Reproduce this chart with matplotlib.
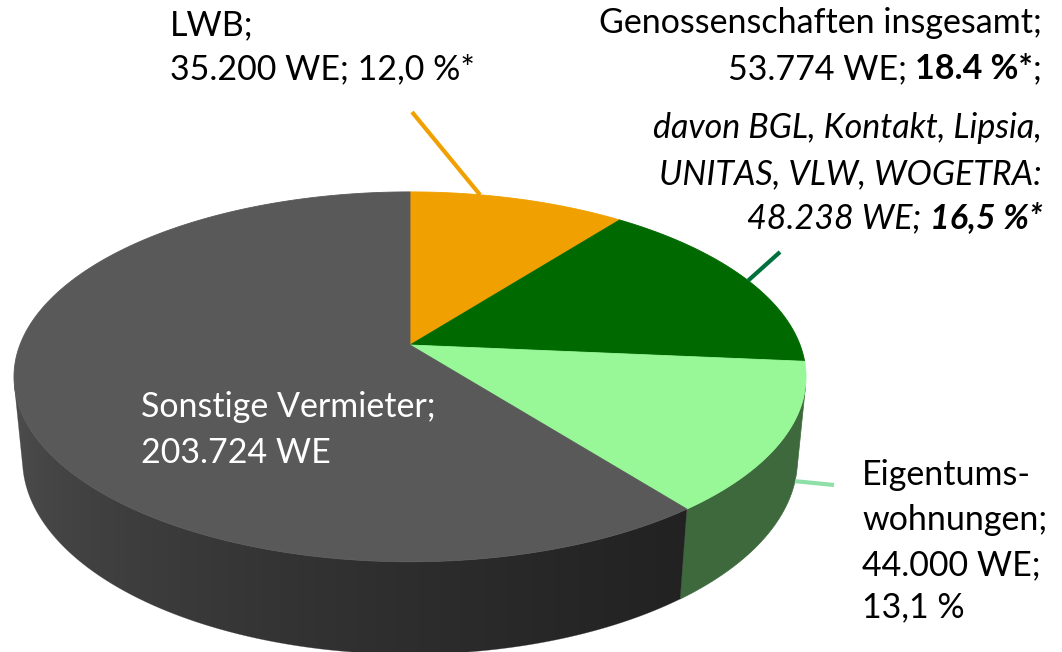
"""3D pie: Wohnungsbestand nach Vermietergruppen."""
import numpy as np
import matplotlib
matplotlib.use('Agg')
import matplotlib.pyplot as plt
from matplotlib.patches import Polygon

plt.rcParams['font.family'] = ['Lato', 'DejaVu Sans']

# slices, clockwise from 12 o'clock
slice_names = ['LWB', 'Genossenschaften', 'Eigentumswohnungen', 'Sonstige Vermieter']
slice_units = [35200, 53774, 44000, 203724]

top_colors = ['#F0A000', '#006A00', '#98F898', '#595959']
side_colors = ['#9A6700', '#004400', '#3D693D', None]  # None -> grey gradient

# camera for the tilted disc (pixel space, 1 unit = 1 px)
FOCAL = 2013
DIST = 5.16
SIN_T = 0.46
COS_T = np.sqrt(1 - SIN_T ** 2)
CX, CY = 410, 345
DEPTH = 0.24
FS = 24.5


def project(x, y, z):
    d = DIST + y * COS_T - z * SIN_T
    return CX + FOCAL * x / d, CY - FOCAL * (y * SIN_T + z * COS_T) / d


def rim(a_deg, z=0.0):
    a = np.radians(a_deg)
    return project(np.sin(a), np.cos(a), z)


def piece_width(ax, renderer, s, **kw):
    t1 = ax.text(0, 0, '|' + s + '|', **kw)
    t2 = ax.text(0, 0, '||', **kw)
    w = (t1.get_window_extent(renderer).width
         - t2.get_window_extent(renderer).width)
    t1.remove()
    t2.remove()
    return w


def rich_line(ax, renderer, x, y, parts, align='left', color='black'):
    # parts: (text, weight, style)
    kws = [dict(fontsize=FS, fontweight=w, fontstyle=st, color=color)
           for _, w, st in parts]
    widths = [piece_width(ax, renderer, s, **kw)
              for (s, _, _), kw in zip(parts, kws)]
    if align == 'right':
        x = x - sum(widths)
    for (s, _, _), kw, w in zip(parts, kws, widths):
        ax.text(x, y, s, ha='left', va='baseline', zorder=5, **kw)
        x += w


fig = plt.figure(figsize=(10.62, 6.52), dpi=100)
ax = fig.add_axes([0, 0, 1, 1])
renderer = fig.canvas.get_renderer()

bounds = np.concatenate([[0], np.cumsum(slice_units)]) / sum(slice_units) * 360

# side wall, only the part facing the viewer
vis0 = np.degrees(np.arccos(-1 / (DIST * COS_T)))
vis1 = 360 - vis0
cols = np.arange(1062)
t = np.clip((cols - 20) / 660, 0, 1) ** 0.6
shade = (0x4C * (1 - t) + 0x22 * t) / 255
grad = np.repeat(shade[None, :, None], 3, axis=2)

for i in range(len(slice_units)):
    a0, a1 = max(bounds[i], vis0), min(bounds[i + 1], vis1)
    if a0 >= a1:
        continue
    aa = np.linspace(a0, a1, 300)
    xt, yt = rim(aa)
    xb, yb = rim(aa[::-1], -DEPTH)
    pts = np.column_stack([np.concatenate([xt, xb]), np.concatenate([yt, yb])])
    if side_colors[i] is None:
        poly = Polygon(pts, closed=True, fc='none', ec='none')
        ax.add_patch(poly)
        im = ax.imshow(grad, extent=(0, 1062, 652, 0), aspect='auto',
                       interpolation='bilinear', zorder=1)
        im.set_clip_path(poly)
        ax.add_patch(Polygon(pts, closed=True, fc='none', ec='#333333',
                             lw=0.4, alpha=0.5, zorder=1))
    else:
        ax.add_patch(Polygon(pts, closed=True, fc=side_colors[i],
                             ec=side_colors[i], lw=0.5, zorder=1))

# top faces
for i in range(len(slice_units)):
    aa = np.linspace(bounds[i], bounds[i + 1], 200)
    xs, ys = rim(aa)
    ax.fill(np.concatenate([[CX], xs]), np.concatenate([[CY], ys]),
            color=top_colors[i], lw=0.6, ec=top_colors[i], zorder=2)

# leader lines: (rim angle, height fraction, outer end)
leaders = [(12.1, 0.0, (412, 112), '#F0A000'),
           (67.5, 0.0, (780, 252), '#00703C'),
           (106.0, 1.0, (834, 485), '#8EE0A8')]
for ang, frac, end, col in leaders:
    x0, y0 = rim(ang, -DEPTH * frac)
    ax.plot([x0, end[0]], [y0, end[1]], color=col, lw=3, zorder=3,
            solid_capstyle='butt')

ax.set_xlim(0, 1062)
ax.set_ylim(652, 0)
ax.axis('off')

# labels
rich_line(ax, renderer, 170, 35, [('LWB;', 'normal', 'normal')])
rich_line(ax, renderer, 170, 79, [('35.200 WE; 12,0 %*', 'normal', 'normal')])

rich_line(ax, renderer, 1042, 33,
          [('Genossenschaften insgesamt;', 'normal', 'normal')], 'right')
rich_line(ax, renderer, 1042, 79,
          [('53.774 WE; ', 'normal', 'normal'), ('18.4 %*', 'bold', 'normal'),
           (';', 'normal', 'normal')], 'right')
rich_line(ax, renderer, 1042, 138,
          [('davon BGL, Kontakt, Lipsia,', 'normal', 'italic')], 'right')
rich_line(ax, renderer, 1042, 184,
          [('UNITAS, VLW, WOGETRA:', 'normal', 'italic')], 'right')
rich_line(ax, renderer, 1042, 228,
          [('48.238 WE; ', 'normal', 'italic'), ('16,5 %*', 'bold', 'italic')],
          'right')

rich_line(ax, renderer, 141, 417, [('Sonstige Vermieter;', 'normal', 'normal')],
          color='white')
rich_line(ax, renderer, 141, 463, [('203.724 WE', 'normal', 'normal')],
          color='white')

for y, s in zip([485, 530, 575, 617],
                ['Eigentums-', 'wohnungen;', '44.000 WE;', '13,1 %']):
    rich_line(ax, renderer, 862, y, [(s, 'normal', 'normal')])

fig.savefig('out.png', dpi=100)
